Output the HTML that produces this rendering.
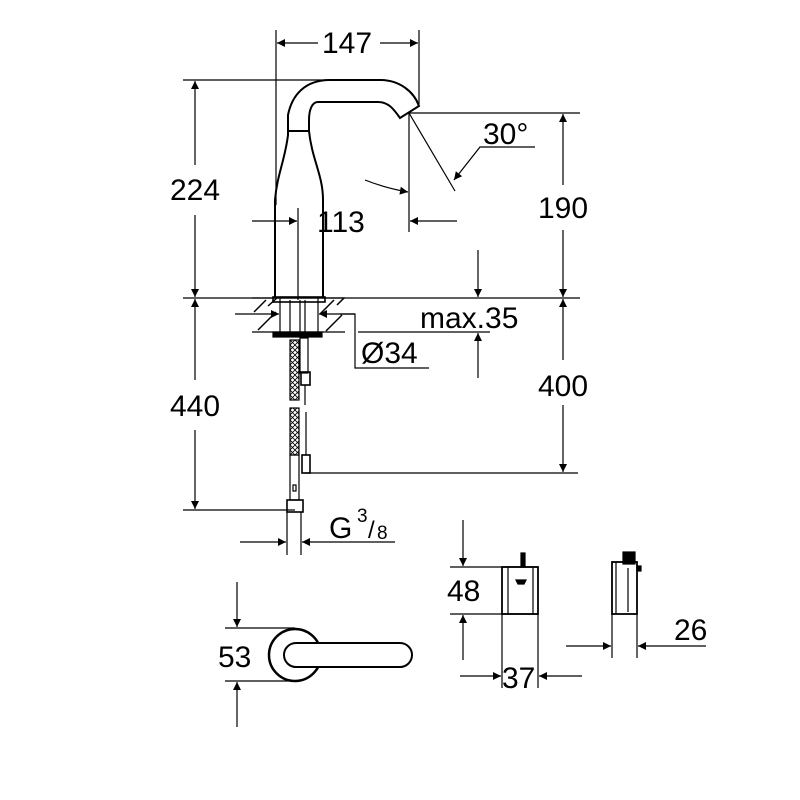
<!DOCTYPE html>
<html><head><meta charset="utf-8"><style>html,body{margin:0;padding:0;background:#fff}svg{display:block}text{font-family:"Liberation Sans",sans-serif;fill:#000}</style></head><body>
<svg width="800" height="800" viewBox="0 0 800 800" xmlns="http://www.w3.org/2000/svg">
<defs>
<marker id="a" viewBox="0 0 10 10" refX="10" refY="5" markerWidth="18" markerHeight="8" markerUnits="userSpaceOnUse" orient="auto"><path d="M0,0L10,5L0,10z" fill="#000"/></marker>
<pattern id="x" width="5" height="5" patternUnits="userSpaceOnUse"><path d="M0,0L5,5M5,0L0,5" stroke="#000" stroke-width="0.8"/></pattern>
</defs>
<g stroke="#000" stroke-width="1.2" fill="none">
<line x1="276" y1="30" x2="276" y2="205"/><line x1="419" y1="30" x2="419" y2="104"/>
<line x1="318" y1="43" x2="277" y2="43" marker-end="url(#a)"/><line x1="380" y1="43" x2="418" y2="43" marker-end="url(#a)"/>
<line x1="183" y1="80" x2="330" y2="80"/>
<line x1="195" y1="165" x2="195" y2="81" marker-end="url(#a)"/><line x1="195" y1="215" x2="195" y2="297" marker-end="url(#a)"/>
<path d="M275,297 L275,200 C277,175 285,160 288,135 L288,115 C292,95 305,80 330,80 L380,80 C400,80 414,92 419,106 L400,118 C393,108 388,102 378,102 L318,102 C312,102 309,110 309,120 L309,131 C312,160 323,175 323,200 L323,297" stroke-width="2"/>
<line x1="288" y1="131" x2="309" y2="131" stroke-width="2"/>
<rect x="273" y="297" width="52" height="5" stroke-width="1.6"/>
<line x1="408" y1="113" x2="580" y2="113"/>
<line x1="409" y1="113" x2="409" y2="232"/>
<line x1="409" y1="113" x2="455" y2="191"/>
<path d="M535,147 L480,147 L454,180" marker-end="url(#a)"/>
<path d="M365,180 Q385,188 408,192" marker-end="url(#a)"/>
<line x1="563" y1="185" x2="563" y2="114" marker-end="url(#a)"/><line x1="563" y1="230" x2="563" y2="297" marker-end="url(#a)"/>
<line x1="298" y1="208" x2="298" y2="300"/>
<line x1="252" y1="221" x2="297" y2="221" marker-end="url(#a)"/><line x1="457" y1="221" x2="410" y2="221" marker-end="url(#a)"/>
<line x1="183" y1="298" x2="580" y2="298"/>
<line x1="478" y1="250" x2="478" y2="297" marker-end="url(#a)"/>
<line x1="358" y1="332" x2="490" y2="332"/>
<line x1="478" y1="378" x2="478" y2="333" marker-end="url(#a)"/>
<line x1="252" y1="298" x2="345" y2="298"/><line x1="252" y1="332" x2="345" y2="332"/>
<line x1="280" y1="298" x2="280" y2="332"/><line x1="318" y1="298" x2="318" y2="332"/>
<line x1="290" y1="300" x2="290" y2="332"/><line x1="300" y1="300" x2="300" y2="332"/><line x1="305" y1="300" x2="305" y2="332"/>
<path d="M254,312 L266,300 M258,330 L276,312 M268,306 L277,298 M320,314 L334,300 M326,331 L342,315 M337,305 L344,298" stroke-width="1.5"/>
<rect x="273" y="332" width="49" height="5" fill="#000"/>
<line x1="235" y1="314" x2="279" y2="314" marker-end="url(#a)"/>
<line x1="355" y1="314" x2="319" y2="314" marker-end="url(#a)"/>
<path d="M340,314 L355,314 L355,368 L429,368"/>
<line x1="563" y1="360" x2="563" y2="299" marker-end="url(#a)"/><line x1="563" y1="405" x2="563" y2="472" marker-end="url(#a)"/>
<line x1="305" y1="473" x2="578" y2="473"/>
<line x1="195" y1="380" x2="195" y2="299" marker-end="url(#a)"/><line x1="195" y1="430" x2="195" y2="509" marker-end="url(#a)"/>
<line x1="183" y1="510" x2="295" y2="510"/>
<rect x="290" y="340" width="9" height="60" fill="url(#x)"/>
<rect x="290" y="408" width="9" height="47" fill="url(#x)"/>
<rect x="290" y="455" width="9" height="45"/>
<rect x="293" y="485" width="3" height="6"/>
<rect x="287" y="500" width="16" height="12" stroke-width="1.6"/>
<rect x="300" y="338" width="8" height="35"/>
<rect x="301" y="372" width="9" height="13" stroke-width="1.6"/>
<line x1="305" y1="385" x2="305" y2="405"/><line x1="306" y1="412" x2="306" y2="455"/>
<rect x="302" y="455" width="8" height="18" stroke-width="1.6"/>
<line x1="287" y1="512" x2="287" y2="555"/><line x1="301" y1="512" x2="301" y2="555"/>
<line x1="240" y1="542" x2="286" y2="542" marker-end="url(#a)"/>
<line x1="395" y1="542" x2="302" y2="542" marker-end="url(#a)"/>
<line x1="237" y1="582" x2="237" y2="627" marker-end="url(#a)"/>
<line x1="225" y1="628" x2="295" y2="628"/><line x1="225" y1="681" x2="295" y2="681"/>
<line x1="237" y1="727" x2="237" y2="682" marker-end="url(#a)"/>
<circle cx="295" cy="655" r="26" stroke-width="2.5"/>
<rect x="284" y="643" width="128" height="24" rx="12" fill="#fff" stroke-width="2"/>
<line x1="463" y1="520" x2="463" y2="566" marker-end="url(#a)"/>
<line x1="450" y1="567" x2="538" y2="567"/><line x1="450" y1="614" x2="538" y2="614"/>
<line x1="463" y1="660" x2="463" y2="615" marker-end="url(#a)"/>
<rect x="502" y="567" width="36" height="47" stroke-width="1.8"/>
<line x1="508" y1="567" x2="508" y2="614"/><line x1="533" y1="567" x2="533" y2="614"/>
<rect x="521" y="553" width="4" height="14" fill="#000"/>
<path d="M516,580 L526,580 L524,584 L518,584z" fill="#000"/>
<line x1="502" y1="614" x2="502" y2="688"/><line x1="538" y1="614" x2="538" y2="688"/>
<line x1="460" y1="676" x2="501" y2="676" marker-end="url(#a)"/>
<line x1="582" y1="676" x2="539" y2="676" marker-end="url(#a)"/>
<rect x="612" y="562" width="25" height="52" stroke-width="1.8"/>
<line x1="616" y1="562" x2="616" y2="614"/><line x1="628" y1="568" x2="628" y2="612"/>
<rect x="623" y="552" width="12" height="12" fill="#000"/><rect x="637" y="566" width="4" height="5" fill="#000"/>
<line x1="612" y1="614" x2="612" y2="658"/><line x1="637" y1="614" x2="637" y2="658"/>
<line x1="566" y1="646" x2="611" y2="646" marker-end="url(#a)"/>
<line x1="706" y1="646" x2="638" y2="646" marker-end="url(#a)"/>
</g>
<g font-size="30">
<text x="347" y="53" text-anchor="middle">147</text>
<text x="195" y="200" text-anchor="middle">224</text>
<text x="483" y="144">30°</text>
<text x="563" y="218" text-anchor="middle">190</text>
<text x="317" y="232">113</text>
<text x="420" y="328">max.35</text>
<text x="361" y="363">Ø34</text>
<text x="563" y="396" text-anchor="middle">400</text>
<text x="195" y="416" text-anchor="middle">440</text>
<text x="329" y="538">G</text>
<text x="357" y="522" font-size="19">3</text>
<text x="368" y="538" font-size="24">/</text>
<text x="377" y="539" font-size="19">8</text>
<text x="218" y="667">53</text>
<text x="447" y="601">48</text>
<text x="502" y="688">37</text>
<text x="674" y="640">26</text>
</g>
</svg>
</body></html>
